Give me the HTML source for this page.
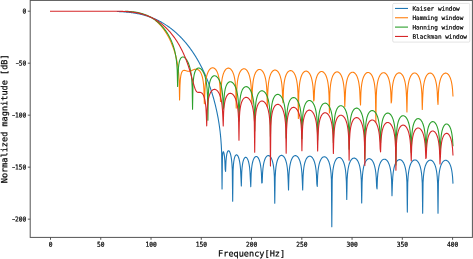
<!DOCTYPE html>
<html><head><meta charset="utf-8"><style>
html,body{margin:0;padding:0;background:#fff;}
svg{display:block;}
text{font-family:"DejaVu Sans Mono","Liberation Mono",monospace;fill:#000;stroke:#000;stroke-width:0.2px;text-rendering:geometricPrecision;}
.t{font-size:6.25px;}
.lg{font-size:6.05px;}
.lab{font-size:8.55px;}
</style></head><body>
<svg width="473" height="259" viewBox="0 0 473 259">
<rect width="473" height="259" fill="#fff"/>
<defs><clipPath id="c"><rect x="30.20" y="0.40" width="442.20" height="237.00"/></clipPath></defs>
<g clip-path="url(#c)">
<polyline points="117.42,11.50 117.81,11.52 118.21,11.54 118.60,11.55 118.99,11.57 119.39,11.59 119.78,11.61 120.17,11.63 120.57,11.65 120.96,11.67 121.35,11.70 121.75,11.72 122.14,11.74 122.53,11.77 122.93,11.80 123.32,11.82 123.71,11.85 124.11,11.88 124.50,11.91 124.89,11.94 125.29,11.97 125.68,12.01 126.07,12.04 126.47,12.08 126.86,12.11 127.26,12.15 127.65,12.19 128.04,12.23 128.44,12.27 128.83,12.31 129.22,12.35 129.62,12.40 130.01,12.45 130.40,12.49 130.80,12.54 131.19,12.59 131.58,12.64 131.98,12.70 132.37,12.75 132.76,12.81 133.16,12.86 133.55,12.92 133.94,12.98 134.34,13.05 134.73,13.11 135.12,13.17 135.52,13.24 135.91,13.31 136.30,13.38 136.70,13.45 137.09,13.52 137.48,13.60 137.88,13.67 138.27,13.75 138.66,13.83 139.06,13.91 139.45,14.00 139.84,14.08 140.24,14.17 140.63,14.26 141.02,14.35 141.42,14.44 141.81,14.54 142.20,14.64 142.60,14.74 142.99,14.84 143.38,14.94 143.78,15.05 144.17,15.15 144.56,15.26 144.96,15.37 145.35,15.49 145.74,15.60 146.14,15.72 146.53,15.84 146.92,15.96 147.32,16.09 147.71,16.21 148.10,16.34 148.50,16.47 148.89,16.61 149.28,16.74 149.68,16.88 150.07,17.02 150.46,17.17 150.86,17.31 151.25,17.46 151.64,17.61 152.04,17.76 152.43,17.92 152.82,18.08 153.22,18.24 153.61,18.40 154.00,18.57 154.40,18.74 154.79,18.91 155.18,19.08 155.58,19.26 155.97,19.44 156.36,19.62 156.76,19.80 157.15,19.99 157.54,20.18 157.94,20.37 158.33,20.57 158.72,20.77 159.12,20.97 159.51,21.17 159.90,21.38 160.30,21.59 160.69,21.80 161.08,22.02 161.48,22.24 161.87,22.46 162.26,22.69 162.66,22.91 163.05,23.15 163.44,23.38 163.84,23.62 164.23,23.86 164.62,24.10 165.02,24.35 165.41,24.60 165.80,24.86 166.20,25.11 166.59,25.37 166.98,25.64 167.38,25.91 167.77,26.18 168.16,26.45 168.56,26.73 168.95,27.01 169.34,27.29 169.74,27.58 170.13,27.88 170.52,28.17 170.92,28.47 171.31,28.77 171.70,29.08 172.10,29.39 172.49,29.71 172.88,30.02 173.28,30.35 173.67,30.67 174.06,31.00 174.46,31.34 174.85,31.67 175.24,32.02 175.64,32.36 176.03,32.71 176.42,33.07 176.82,33.43 177.21,33.79 177.61,34.16 178.00,34.53 178.39,34.90 178.79,35.28 179.18,35.67 179.57,36.06 179.97,36.45 180.36,36.85 180.75,37.25 181.15,37.66 181.54,38.07 181.93,38.49 182.33,38.91 182.72,39.34 183.11,39.77 183.51,40.21 183.90,40.65 184.29,41.10 184.69,41.55 185.08,42.01 185.47,42.47 185.87,42.94 186.26,43.42 186.65,43.90 187.05,44.38 187.44,44.87 187.83,45.37 188.23,45.87 188.62,46.38 189.01,46.90 189.41,47.42 189.80,47.94 190.19,48.48 190.59,49.02 190.98,49.56 191.37,50.12 191.77,50.68 192.16,51.24 192.55,51.81 192.95,52.40 193.34,52.98 193.73,53.58 194.13,54.18 194.52,54.79 194.91,55.41 195.31,56.03 195.70,56.66 196.09,57.31 196.49,57.95 196.88,58.61 197.27,59.28 197.67,59.95 198.06,60.64 198.45,61.33 198.85,62.03 199.24,62.74 199.63,63.47 200.03,64.20 200.42,64.94 200.81,65.69 201.21,66.45 201.60,67.23 201.99,68.01 202.39,68.81 202.78,69.62 203.17,70.44 203.57,71.27 203.96,72.12 204.35,72.98 204.75,73.85 205.14,74.74 205.53,75.64 205.93,76.55 206.32,77.48 206.71,78.43 207.11,79.40 207.50,80.38 207.89,81.38 208.29,82.40 208.68,83.43 209.07,84.49 209.47,85.57 209.86,86.67 210.25,87.79 210.65,88.94 211.04,90.11 211.43,91.31 211.83,92.54 212.22,93.80 212.61,95.08 213.01,96.41 213.40,97.76 213.79,99.16 214.19,100.59 214.58,102.07 214.97,103.60 215.37,105.18 215.76,106.81 216.15,108.51 216.55,110.27 216.94,112.11 217.33,114.04 217.73,116.07 218.12,118.20 218.51,120.47 218.91,122.89 219.30,125.51 219.69,128.36 220.09,131.53 220.48,135.14 220.87,139.42 221.27,144.86 221.66,153.07 222.05,188.95 222.45,156.73 222.84,152.87 223.23,151.77 223.63,152.05 224.02,153.37 224.41,155.83 224.81,160.09 225.20,169.41 225.59,171.43 225.99,161.15 226.38,156.85 226.77,154.33 227.17,152.71 227.56,151.67 227.96,151.06 228.35,150.78 228.74,150.79 229.14,151.07 229.53,151.61 229.92,152.41 230.32,153.51 230.71,154.96 231.10,156.86 231.50,159.42 231.89,163.09 232.28,169.35 232.68,201.24 233.07,170.38 233.46,164.31 233.86,161.00 234.25,158.85 234.64,157.35 235.04,156.30 235.43,155.57 235.82,155.11 236.22,154.87 236.61,154.83 237.00,154.98 237.40,155.31 237.79,155.83 238.18,156.56 238.58,157.51 238.97,158.74 239.36,160.31 239.76,162.35 240.15,165.13 240.54,169.27 240.94,177.17 241.33,186.00 241.72,172.33 242.12,167.32 242.51,164.30 242.90,162.22 243.30,160.70 243.69,159.56 244.08,158.71 244.48,158.09 244.87,157.66 245.26,157.41 245.66,157.32 246.05,157.38 246.44,157.59 246.84,157.96 247.23,158.49 247.62,159.20 248.02,160.12 248.41,161.31 248.80,162.82 249.20,164.81 249.59,167.54 249.98,171.66 250.38,179.77 250.77,186.60 251.16,173.82 251.56,168.79 251.95,165.66 252.34,163.44 252.74,161.75 253.13,160.42 253.52,159.37 253.92,158.52 254.31,157.86 254.70,157.34 255.10,156.95 255.49,156.69 255.88,156.54 256.28,156.50 256.67,156.56 257.06,156.73 257.46,157.02 257.85,157.42 258.24,157.95 258.64,158.62 259.03,159.47 259.42,160.51 259.82,161.80 260.21,163.44 260.60,165.57 261.00,168.50 261.39,173.05 261.78,183.00 262.18,182.78 262.57,172.95 262.96,168.40 263.36,165.44 263.75,163.29 264.14,161.62 264.54,160.29 264.93,159.20 265.32,158.31 265.72,157.58 266.11,156.98 266.50,156.51 266.90,156.13 267.29,155.86 267.68,155.68 268.08,155.58 268.47,155.57 268.86,155.64 269.26,155.80 269.65,156.05 270.04,156.39 270.44,156.83 270.83,157.38 271.22,158.06 271.62,158.87 272.01,159.86 272.40,161.06 272.80,162.54 273.19,164.41 273.58,166.88 273.98,170.40 274.37,176.38 274.76,203.22 275.16,177.36 275.55,170.89 275.94,167.21 276.34,164.66 276.73,162.74 277.12,161.23 277.52,160.00 277.91,158.98 278.31,158.14 278.70,157.44 279.09,156.87 279.49,156.40 279.88,156.02 280.27,155.74 280.67,155.53 281.06,155.41 281.45,155.36 281.85,155.38 282.24,155.48 282.63,155.66 283.03,155.91 283.42,156.25 283.81,156.67 284.21,157.19 284.60,157.82 284.99,158.58 285.39,159.48 285.78,160.56 286.17,161.87 286.57,163.48 286.96,165.52 287.35,168.26 287.75,172.30 288.14,179.94 288.53,189.86 288.93,175.36 289.32,170.10 289.71,166.86 290.11,164.54 290.50,162.76 290.89,161.33 291.29,160.17 291.68,159.20 292.07,158.40 292.47,157.73 292.86,157.17 293.25,156.71 293.65,156.34 294.04,156.05 294.43,155.84 294.83,155.71 295.22,155.64 295.61,155.65 296.01,155.72 296.40,155.86 296.79,156.08 297.19,156.37 297.58,156.74 297.97,157.19 298.37,157.74 298.76,158.39 299.15,159.17 299.55,160.09 299.94,161.19 300.33,162.52 300.73,164.15 301.12,166.21 301.51,168.97 301.91,173.05 302.30,180.79 302.69,190.03 303.09,175.94 303.48,170.74 303.87,167.51 304.27,165.20 304.66,163.42 305.05,162.00 305.45,160.84 305.84,159.87 306.23,159.05 306.63,158.37 307.02,157.81 307.41,157.34 307.81,156.95 308.20,156.65 308.59,156.43 308.99,156.27 309.38,156.18 309.77,156.16 310.17,156.21 310.56,156.32 310.95,156.50 311.35,156.74 311.74,157.07 312.13,157.47 312.53,157.95 312.92,158.53 313.31,159.22 313.71,160.03 314.10,160.99 314.49,162.13 314.89,163.51 315.28,165.20 315.67,167.36 316.07,170.28 316.46,174.70 316.85,183.84 317.25,186.44 317.64,175.61 318.03,170.88 318.43,167.85 318.82,165.64 319.21,163.93 319.61,162.55 320.00,161.42 320.39,160.47 320.79,159.68 321.18,159.01 321.57,158.45 321.97,157.98 322.36,157.60 322.75,157.30 323.15,157.07 323.54,156.92 323.93,156.82 324.33,156.79 324.72,156.83 325.11,156.93 325.51,157.09 325.90,157.32 326.29,157.62 326.69,158.00 327.08,158.46 327.47,159.00 327.87,159.65 328.26,160.41 328.66,161.31 329.05,162.37 329.44,163.64 329.84,165.19 330.23,167.12 330.62,169.66 331.02,173.28 331.41,179.51 331.80,226.79 332.20,179.64 332.59,173.41 332.98,169.81 333.38,167.30 333.77,165.39 334.16,163.88 334.56,162.64 334.95,161.62 335.34,160.75 335.74,160.03 336.13,159.41 336.52,158.90 336.92,158.48 337.31,158.14 337.70,157.87 338.10,157.67 338.49,157.53 338.88,157.46 339.28,157.46 339.67,157.51 340.06,157.63 340.46,157.81 340.85,158.06 341.24,158.38 341.64,158.77 342.03,159.24 342.42,159.80 342.82,160.47 343.21,161.25 343.60,162.17 344.00,163.25 344.39,164.56 344.78,166.15 345.18,168.15 345.57,170.79 345.96,174.61 346.36,181.45 346.75,199.45 347.14,179.31 347.54,173.60 347.93,170.18 348.32,167.76 348.72,165.92 349.11,164.44 349.50,163.23 349.90,162.22 350.29,161.37 350.68,160.65 351.08,160.05 351.47,159.54 351.86,159.12 352.26,158.78 352.65,158.51 353.04,158.31 353.44,158.17 353.83,158.10 354.22,158.09 354.62,158.14 355.01,158.25 355.40,158.43 355.80,158.66 356.19,158.97 356.58,159.35 356.98,159.81 357.37,160.36 357.76,161.00 358.16,161.76 358.55,162.65 358.94,163.70 359.34,164.95 359.73,166.47 360.12,168.37 360.52,170.85 360.91,174.35 361.30,180.22 361.70,202.89 362.09,181.85 362.48,175.20 362.88,171.47 363.27,168.89 363.66,166.93 364.06,165.39 364.45,164.12 364.84,163.07 365.24,162.19 365.63,161.44 366.02,160.81 366.42,160.28 366.81,159.83 367.20,159.47 367.60,159.18 367.99,158.96 368.38,158.80 368.78,158.71 369.17,158.67 369.56,158.70 369.96,158.79 370.35,158.93 370.74,159.15 371.14,159.42 371.53,159.77 371.92,160.19 372.32,160.70 372.71,161.30 373.10,162.00 373.50,162.83 373.89,163.80 374.28,164.95 374.68,166.34 375.07,168.04 375.46,170.21 375.86,173.15 376.25,177.61 376.64,186.90 377.04,188.91 377.43,178.30 377.82,173.61 378.22,170.58 378.61,168.37 379.01,166.66 379.40,165.27 379.79,164.12 380.19,163.16 380.58,162.34 380.97,161.66 381.37,161.07 381.76,160.59 382.15,160.18 382.55,159.85 382.94,159.59 383.33,159.40 383.73,159.27 384.12,159.20 384.51,159.19 384.91,159.24 385.30,159.35 385.69,159.52 386.09,159.75 386.48,160.06 386.87,160.43 387.27,160.88 387.66,161.41 388.05,162.05 388.45,162.79 388.84,163.66 389.23,164.68 389.63,165.90 390.02,167.38 390.41,169.22 390.81,171.60 391.20,174.92 391.59,180.30 391.99,195.75 392.38,184.36 392.77,176.95 393.17,172.97 393.56,170.28 393.95,168.25 394.35,166.65 394.74,165.35 395.13,164.26 395.53,163.35 395.92,162.58 396.31,161.92 396.71,161.37 397.10,160.90 397.49,160.52 397.89,160.21 398.28,159.97 398.67,159.79 399.07,159.67 399.46,159.61 399.85,159.62 400.25,159.68 400.64,159.80 401.03,159.99 401.43,160.23 401.82,160.55 402.21,160.93 402.61,161.40 403.00,161.95 403.39,162.60 403.79,163.36 404.18,164.26 404.57,165.31 404.97,166.57 405.36,168.11 405.75,170.03 406.15,172.54 406.54,176.10 406.93,182.17 407.33,212.08 407.72,182.87 408.11,176.47 408.51,172.81 408.90,170.26 409.29,168.33 409.69,166.78 410.08,165.52 410.47,164.47 410.87,163.58 411.26,162.83 411.65,162.19 412.05,161.64 412.44,161.19 412.83,160.81 413.23,160.51 413.62,160.27 414.01,160.10 414.41,159.99 414.80,159.94 415.19,159.95 415.59,160.01 415.98,160.14 416.37,160.33 416.77,160.58 417.16,160.90 417.55,161.29 417.95,161.76 418.34,162.31 418.73,162.97 419.13,163.74 419.52,164.64 419.91,165.71 420.31,166.99 420.70,168.54 421.09,170.49 421.49,173.05 421.88,176.73 422.27,183.13 422.67,213.15 423.06,182.51 423.45,176.44 423.85,172.89 424.24,170.39 424.63,168.48 425.03,166.96 425.42,165.71 425.81,164.67 426.21,163.79 426.60,163.04 426.99,162.40 427.39,161.86 427.78,161.41 428.17,161.04 428.57,160.73 428.96,160.50 429.36,160.33 429.75,160.22 430.14,160.16 430.54,160.17 430.93,160.24 431.32,160.36 431.72,160.55 432.11,160.80 432.50,161.11 432.90,161.50 433.29,161.97 433.68,162.52 434.08,163.18 434.47,163.94 434.86,164.84 435.26,165.91 435.65,167.19 436.04,168.74 436.44,170.68 436.83,173.24 437.22,176.92 437.62,183.31 438.01,213.21 438.40,182.68 438.80,176.61 439.19,173.06 439.58,170.56 439.98,168.65 440.37,167.12 440.76,165.87 441.16,164.82 441.55,163.94 441.94,163.19 442.34,162.55 442.73,162.01 443.12,161.55 443.52,161.17 443.91,160.86 444.30,160.63 444.70,160.45 445.09,160.33 445.48,160.28 445.88,160.28 446.27,160.34 446.66,160.46 447.06,160.64 447.45,160.89 447.84,161.20 448.24,161.58 448.63,162.05 449.02,162.59 449.42,163.24 449.81,164.00 450.20,164.89 450.60,165.95 450.99,167.21 451.38,168.75 451.78,170.68 452.17,173.21 452.56,176.82 452.96,183.05" fill="none" stroke="#1f77b4" stroke-width="1.1" stroke-linejoin="round" stroke-linecap="square"/>
<polyline points="155.58,20.58 155.97,20.91 156.36,21.24 156.76,21.59 157.15,21.94 157.54,22.30 157.94,22.67 158.33,23.05 158.72,23.44 159.12,23.84 159.51,24.25 159.90,24.67 160.30,25.10 160.69,25.54 161.08,25.99 161.48,26.45 161.87,26.92 162.26,27.41 162.66,27.90 163.05,28.41 163.44,28.93 163.84,29.46 164.23,30.01 164.62,30.57 165.02,31.15 165.41,31.74 165.80,32.34 166.20,32.96 166.59,33.60 166.98,34.25 167.38,34.92 167.77,35.61 168.16,36.32 168.56,37.05 168.95,37.80 169.34,38.57 169.74,39.36 170.13,40.18 170.52,41.02 170.92,41.89 171.31,42.79 171.70,43.73 172.10,44.69 172.49,45.69 172.88,46.73 173.28,47.81 173.67,48.93 174.06,50.11 174.46,51.35 174.85,52.65 175.24,54.02 175.64,55.48 176.03,57.04 176.42,58.72 176.82,60.55 177.21,62.57 177.61,64.85 178.00,67.49 178.39,70.67 178.79,74.83 179.18,81.18 179.57,100.00 179.97,85.51 180.36,79.22 180.75,76.07 181.15,74.13 181.54,72.83 181.93,71.93 182.33,71.31 182.72,70.88 183.11,70.60 183.51,70.43 183.90,70.36 184.29,70.35 184.69,70.39 185.08,70.47 185.47,70.58 185.87,70.70 186.26,70.83 186.65,70.96 187.05,71.07 187.44,71.17 187.83,71.25 188.23,71.30 188.62,71.32 189.01,71.30 189.41,71.26 189.80,71.19 190.19,71.09 190.59,70.97 190.98,70.83 191.37,70.67 191.77,70.50 192.16,70.33 192.55,70.15 192.95,69.98 193.34,69.81 193.73,69.66 194.13,69.52 194.52,69.40 194.91,69.30 195.31,69.23 195.70,69.18 196.09,69.17 196.49,69.19 196.88,69.24 197.27,69.34 197.67,69.48 198.06,69.67 198.45,69.91 198.85,70.21 199.24,70.57 199.63,70.99 200.03,71.50 200.42,72.10 200.81,72.80 201.21,73.62 201.60,74.60 201.99,75.76 202.39,77.18 202.78,78.95 203.17,81.25 203.57,84.45 203.96,89.64 204.35,103.69 204.75,94.44 205.14,86.66 205.53,82.55 205.93,79.75 206.32,77.64 206.71,75.96 207.11,74.58 207.50,73.43 207.89,72.44 208.29,71.60 208.68,70.87 209.07,70.24 209.47,69.70 209.86,69.24 210.25,68.85 210.65,68.53 211.04,68.27 211.43,68.07 211.83,67.93 212.22,67.84 212.61,67.80 213.01,67.82 213.40,67.90 213.79,68.03 214.19,68.22 214.58,68.46 214.97,68.78 215.37,69.16 215.76,69.61 216.15,70.15 216.55,70.78 216.94,71.51 217.33,72.37 217.73,73.39 218.12,74.59 218.51,76.04 218.91,77.84 219.30,80.16 219.69,83.36 220.09,88.44 220.48,101.39 220.87,94.30 221.27,86.21 221.66,82.06 222.05,79.27 222.45,77.18 222.84,75.54 223.23,74.21 223.63,73.09 224.02,72.15 224.41,71.36 224.81,70.68 225.20,70.10 225.59,69.61 225.99,69.20 226.38,68.87 226.77,68.60 227.17,68.39 227.56,68.24 227.96,68.16 228.35,68.13 228.74,68.15 229.14,68.24 229.53,68.38 229.92,68.57 230.32,68.84 230.71,69.16 231.10,69.56 231.50,70.03 231.89,70.59 232.28,71.24 232.68,72.00 233.07,72.89 233.46,73.94 233.86,75.19 234.25,76.69 234.64,78.57 235.04,81.00 235.43,84.40 235.82,90.02 236.22,108.09 236.61,92.89 237.00,85.87 237.40,82.02 237.79,79.37 238.18,77.38 238.58,75.81 238.97,74.52 239.36,73.45 239.76,72.54 240.15,71.77 240.54,71.12 240.94,70.57 241.33,70.10 241.72,69.71 242.12,69.40 242.51,69.15 242.90,68.97 243.30,68.84 243.69,68.77 244.08,68.76 244.48,68.81 244.87,68.92 245.26,69.08 245.66,69.31 246.05,69.59 246.44,69.95 246.84,70.38 247.23,70.88 247.62,71.48 248.02,72.17 248.41,72.99 248.80,73.94 249.20,75.07 249.59,76.42 249.98,78.07 250.38,80.15 250.77,82.92 251.16,87.02 251.56,94.81 251.95,103.79 252.34,89.84 252.74,84.65 253.13,81.42 253.52,79.10 253.92,77.31 254.31,75.87 254.70,74.68 255.10,73.68 255.49,72.84 255.88,72.13 256.28,71.52 256.67,71.01 257.06,70.58 257.46,70.23 257.85,69.94 258.24,69.72 258.64,69.57 259.03,69.47 259.42,69.43 259.82,69.45 260.21,69.52 260.60,69.65 261.00,69.85 261.39,70.10 261.78,70.42 262.18,70.81 262.57,71.28 262.96,71.83 263.36,72.47 263.75,73.23 264.14,74.11 264.54,75.15 264.93,76.38 265.32,77.87 265.72,79.72 266.11,82.12 266.50,85.46 266.90,90.88 267.29,106.75 267.68,94.73 268.08,87.39 268.47,83.45 268.86,80.76 269.26,78.74 269.65,77.15 270.04,75.85 270.44,74.77 270.83,73.85 271.22,73.08 271.62,72.42 272.01,71.87 272.40,71.40 272.80,71.01 273.19,70.69 273.58,70.44 273.98,70.25 274.37,70.13 274.76,70.06 275.16,70.05 275.55,70.10 275.94,70.20 276.34,70.37 276.73,70.59 277.12,70.88 277.52,71.24 277.91,71.67 278.31,72.18 278.70,72.78 279.09,73.48 279.49,74.30 279.88,75.27 280.27,76.41 280.67,77.78 281.06,79.45 281.45,81.58 281.85,84.42 282.24,88.68 282.63,97.12 283.03,102.59 283.42,90.49 283.81,85.54 284.21,82.41 284.60,80.14 284.99,78.38 285.39,76.96 285.78,75.79 286.17,74.81 286.57,73.98 286.96,73.27 287.35,72.67 287.75,72.16 288.14,71.74 288.53,71.39 288.93,71.11 289.32,70.89 289.71,70.74 290.11,70.64 290.50,70.61 290.89,70.63 291.29,70.71 291.68,70.85 292.07,71.04 292.47,71.30 292.86,71.63 293.25,72.03 293.65,72.50 294.04,73.06 294.43,73.72 294.83,74.48 295.22,75.38 295.61,76.44 296.01,77.71 296.40,79.24 296.79,81.15 297.19,83.64 297.58,87.17 297.97,93.14 298.37,118.47 298.76,94.33 299.15,87.80 299.55,84.10 299.94,81.53 300.33,79.58 300.73,78.03 301.12,76.77 301.51,75.71 301.91,74.81 302.30,74.06 302.69,73.41 303.09,72.86 303.48,72.40 303.87,72.02 304.27,71.71 304.66,71.47 305.05,71.29 305.45,71.17 305.84,71.11 306.23,71.10 306.63,71.16 307.02,71.27 307.41,71.44 307.81,71.67 308.20,71.97 308.59,72.34 308.99,72.78 309.38,73.30 309.77,73.91 310.17,74.63 310.56,75.47 310.95,76.46 311.35,77.63 311.74,79.04 312.13,80.78 312.53,83.00 312.92,86.03 313.31,90.68 313.71,100.96 314.10,99.93 314.49,90.37 314.89,85.87 315.28,82.93 315.67,80.77 316.07,79.07 316.46,77.70 316.85,76.56 317.25,75.60 317.64,74.79 318.03,74.10 318.43,73.52 318.82,73.02 319.21,72.61 319.61,72.27 320.00,72.00 320.39,71.79 320.79,71.64 321.18,71.56 321.57,71.53 321.97,71.56 322.36,71.64 322.75,71.79 323.15,72.00 323.54,72.26 323.93,72.60 324.33,73.01 324.72,73.50 325.11,74.07 325.51,74.74 325.90,75.53 326.29,76.45 326.69,77.55 327.08,78.85 327.47,80.44 327.87,82.45 328.26,85.09 328.66,88.92 329.05,95.81 329.44,113.07 329.84,93.49 330.23,87.80 330.62,84.38 331.02,81.96 331.41,80.10 331.80,78.61 332.20,77.38 332.59,76.35 332.98,75.49 333.38,74.75 333.77,74.12 334.16,73.59 334.56,73.14 334.95,72.77 335.34,72.47 335.74,72.24 336.13,72.07 336.52,71.96 336.92,71.90 337.31,71.91 337.70,71.97 338.10,72.09 338.49,72.27 338.88,72.51 339.28,72.82 339.67,73.20 340.06,73.65 340.46,74.19 340.85,74.82 341.24,75.56 341.64,76.42 342.03,77.44 342.42,78.66 342.82,80.12 343.21,81.94 343.60,84.29 344.00,87.54 344.39,92.77 344.78,106.82 345.18,97.72 345.57,89.98 345.96,85.92 346.36,83.17 346.75,81.12 347.14,79.50 347.54,78.17 347.93,77.07 348.32,76.14 348.72,75.35 349.11,74.68 349.50,74.11 349.90,73.63 350.29,73.23 350.68,72.91 351.08,72.64 351.47,72.45 351.86,72.31 352.26,72.23 352.65,72.22 353.04,72.25 353.44,72.35 353.83,72.50 354.22,72.72 354.62,73.00 355.01,73.35 355.40,73.77 355.80,74.27 356.19,74.86 356.58,75.55 356.98,76.37 357.37,77.32 357.76,78.45 358.16,79.81 358.55,81.47 358.94,83.58 359.34,86.40 359.73,90.63 360.12,98.94 360.52,104.96 360.91,92.58 361.30,87.59 361.70,84.43 362.09,82.15 362.48,80.37 362.88,78.94 363.27,77.76 363.66,76.77 364.06,75.93 364.45,75.21 364.84,74.60 365.24,74.09 365.63,73.65 366.02,73.30 366.42,73.01 366.81,72.79 367.20,72.62 367.60,72.52 367.99,72.48 368.38,72.49 368.78,72.57 369.17,72.70 369.56,72.89 369.96,73.14 370.35,73.46 370.74,73.85 371.14,74.32 371.53,74.87 371.92,75.52 372.32,76.28 372.71,77.18 373.10,78.23 373.50,79.49 373.89,81.02 374.28,82.93 374.68,85.43 375.07,88.97 375.46,94.97 375.86,122.05 376.25,95.93 376.64,89.46 377.04,85.77 377.43,83.20 377.82,81.25 378.22,79.70 378.61,78.43 379.01,77.37 379.40,76.47 379.79,75.70 380.19,75.05 380.58,74.50 380.97,74.04 381.37,73.65 381.76,73.33 382.15,73.09 382.55,72.90 382.94,72.77 383.33,72.71 383.73,72.70 384.12,72.75 384.51,72.85 384.91,73.02 385.30,73.24 385.69,73.54 386.09,73.90 386.48,74.33 386.87,74.85 387.27,75.46 387.66,76.17 388.05,77.01 388.45,78.00 388.84,79.17 389.23,80.58 389.63,82.32 390.02,84.56 390.41,87.60 390.81,92.32 391.20,102.98 391.59,100.92 391.99,91.66 392.38,87.22 392.77,84.30 393.17,82.14 393.56,80.46 393.95,79.08 394.35,77.94 394.74,76.98 395.13,76.17 395.53,75.48 395.92,74.89 396.31,74.39 396.71,73.97 397.10,73.62 397.49,73.35 397.89,73.14 398.28,72.99 398.67,72.90 399.07,72.86 399.46,72.89 399.85,72.97 400.25,73.11 400.64,73.31 401.03,73.58 401.43,73.91 401.82,74.31 402.21,74.80 402.61,75.37 403.00,76.04 403.39,76.83 403.79,77.75 404.18,78.84 404.57,80.15 404.97,81.75 405.36,83.76 405.75,86.43 406.15,90.32 406.54,97.43 406.93,111.93 407.33,94.39 407.72,88.84 408.11,85.47 408.51,83.06 408.90,81.21 409.29,79.73 409.69,78.50 410.08,77.48 410.47,76.61 410.87,75.87 411.26,75.24 411.65,74.70 412.05,74.26 412.44,73.88 412.83,73.58 413.23,73.34 413.62,73.17 414.01,73.05 414.41,73.00 414.80,73.00 415.19,73.06 415.59,73.17 415.98,73.35 416.37,73.59 416.77,73.89 417.16,74.27 417.55,74.72 417.95,75.25 418.34,75.88 418.73,76.62 419.13,77.49 419.52,78.51 419.91,79.72 420.31,81.20 420.70,83.03 421.09,85.40 421.49,88.71 421.88,94.07 422.27,109.46 422.67,98.15 423.06,90.71 423.45,86.73 423.85,84.02 424.24,81.98 424.63,80.37 425.03,79.05 425.42,77.95 425.81,77.02 426.21,76.24 426.60,75.56 426.99,74.99 427.39,74.51 427.78,74.11 428.17,73.78 428.57,73.51 428.96,73.31 429.36,73.18 429.75,73.10 430.14,73.07 430.54,73.11 430.93,73.20 431.32,73.35 431.72,73.57 432.11,73.84 432.50,74.19 432.90,74.61 433.29,75.11 433.68,75.70 434.08,76.39 434.47,77.20 434.86,78.16 435.26,79.29 435.65,80.66 436.04,82.33 436.44,84.46 436.83,87.33 437.22,91.65 437.62,100.39 438.01,104.47 438.40,92.99 438.80,88.13 439.19,85.03 439.58,82.77 439.98,81.01 440.37,79.59 440.76,78.41 441.16,77.42 441.55,76.58 441.94,75.86 442.34,75.25 442.73,74.74 443.12,74.30 443.52,73.94 443.91,73.65 444.30,73.43 444.70,73.27 445.09,73.16 445.48,73.12 445.88,73.13 446.27,73.20 446.66,73.33 447.06,73.51 447.45,73.76 447.84,74.08 448.24,74.47 448.63,74.94 449.02,75.49 449.42,76.14 449.81,76.90 450.20,77.80 450.60,78.86 450.99,80.12 451.38,81.66 451.78,83.59 452.17,86.12 452.56,89.74 452.96,95.97" fill="none" stroke="#ff7f0e" stroke-width="1.1" stroke-linejoin="round" stroke-linecap="square"/>
<polyline points="125.29,11.27 125.68,11.28 126.07,11.30 126.47,11.31 126.86,11.33 127.26,11.34 127.65,11.36 128.04,11.38 128.44,11.41 128.83,11.43 129.22,11.45 129.62,11.48 130.01,11.51 130.40,11.54 130.80,11.57 131.19,11.61 131.58,11.65 131.98,11.68 132.37,11.73 132.76,11.77 133.16,11.82 133.55,11.86 133.94,11.91 134.34,11.97 134.73,12.02 135.12,12.08 135.52,12.14 135.91,12.21 136.30,12.27 136.70,12.34 137.09,12.41 137.48,12.49 137.88,12.57 138.27,12.65 138.66,12.73 139.06,12.82 139.45,12.91 139.84,13.01 140.24,13.11 140.63,13.21 141.02,13.31 141.42,13.42 141.81,13.53 142.20,13.65 142.60,13.77 142.99,13.89 143.38,14.02 143.78,14.15 144.17,14.29 144.56,14.43 144.96,14.57 145.35,14.72 145.74,14.88 146.14,15.03 146.53,15.20 146.92,15.36 147.32,15.53 147.71,15.71 148.10,15.89 148.50,16.07 148.89,16.27 149.28,16.46 149.68,16.66 150.07,16.87 150.46,17.08 150.86,17.30 151.25,17.52 151.64,17.75 152.04,17.98 152.43,18.22 152.82,18.46 153.22,18.71 153.61,18.97 154.00,19.24 154.40,19.51 154.79,19.78 155.18,20.06 155.58,20.35 155.97,20.65 156.36,20.96 156.76,21.27 157.15,21.58 157.54,21.91 157.94,22.24 158.33,22.59 158.72,22.94 159.12,23.29 159.51,23.66 159.90,24.04 160.30,24.42 160.69,24.81 161.08,25.22 161.48,25.63 161.87,26.05 162.26,26.49 162.66,26.93 163.05,27.39 163.44,27.86 163.84,28.34 164.23,28.83 164.62,29.33 165.02,29.85 165.41,30.38 165.80,30.93 166.20,31.49 166.59,32.07 166.98,32.67 167.38,33.28 167.77,33.92 168.16,34.57 168.56,35.25 168.95,35.95 169.34,36.67 169.74,37.42 170.13,38.20 170.52,39.01 170.92,39.86 171.31,40.74 171.70,41.66 172.10,42.63 172.49,43.66 172.88,44.74 173.28,45.89 173.67,47.12 174.06,48.45 174.46,49.89 174.85,51.47 175.24,53.25 175.64,55.26 176.03,57.63 176.42,60.52 176.82,64.35 177.21,70.26 177.61,86.47 178.00,75.13 178.39,68.23 178.79,64.74 179.18,62.50 179.57,60.92 179.97,59.77 180.36,58.90 180.75,58.24 181.15,57.75 181.54,57.39 181.93,57.15 182.33,57.00 182.72,56.94 183.11,56.95 183.51,57.03 183.90,57.18 184.29,57.39 184.69,57.65 185.08,57.98 185.47,58.36 185.87,58.80 186.26,59.30 186.65,59.86 187.05,60.49 187.44,61.18 187.83,61.95 188.23,62.81 188.62,63.77 189.01,64.83 189.41,66.03 189.80,67.39 190.19,68.97 190.59,70.82 190.98,73.07 191.37,75.94 191.77,79.96 192.16,86.85 192.55,109.17 192.95,85.95 193.34,80.33 193.73,77.11 194.13,74.90 194.52,73.27 194.91,72.02 195.31,71.03 195.70,70.24 196.09,69.62 196.49,69.12 196.88,68.73 197.27,68.43 197.67,68.22 198.06,68.09 198.45,68.02 198.85,68.02 199.24,68.08 199.63,68.20 200.03,68.37 200.42,68.61 200.81,68.90 201.21,69.24 201.60,69.65 201.99,70.12 202.39,70.65 202.78,71.25 203.17,71.93 203.57,72.70 203.96,73.56 204.35,74.54 204.75,75.65 205.14,76.92 205.53,78.40 205.93,80.16 206.32,82.32 206.71,85.10 207.11,89.00 207.50,95.73 207.89,120.32 208.29,94.98 208.68,89.21 209.07,85.88 209.47,83.58 209.86,81.87 210.25,80.54 210.65,79.47 211.04,78.60 211.43,77.90 211.83,77.32 212.22,76.86 212.61,76.49 213.01,76.20 213.40,75.99 213.79,75.85 214.19,75.78 214.58,75.76 214.97,75.81 215.37,75.91 215.76,76.07 216.15,76.28 216.55,76.55 216.94,76.88 217.33,77.27 217.73,77.72 218.12,78.25 218.51,78.84 218.91,79.51 219.30,80.28 219.69,81.15 220.09,82.14 220.48,83.28 220.87,84.60 221.27,86.16 221.66,88.05 222.05,90.42 222.45,93.60 222.84,98.44 223.23,109.09 223.63,107.57 224.02,98.34 224.41,94.02 224.81,91.23 225.20,89.21 225.59,87.65 225.99,86.42 226.38,85.41 226.77,84.59 227.17,83.91 227.56,83.34 227.96,82.89 228.35,82.52 228.74,82.23 229.14,82.01 229.53,81.86 229.92,81.78 230.32,81.75 230.71,81.78 231.10,81.87 231.50,82.01 231.89,82.21 232.28,82.47 232.68,82.78 233.07,83.16 233.46,83.60 233.86,84.11 234.25,84.69 234.64,85.36 235.04,86.12 235.43,86.98 235.82,87.98 236.22,89.13 236.61,90.47 237.00,92.07 237.40,94.03 237.79,96.53 238.18,99.96 238.58,105.46 238.97,121.10 239.36,109.71 239.76,102.41 240.15,98.55 240.54,95.96 240.94,94.04 241.33,92.54 241.72,91.34 242.12,90.35 242.51,89.54 242.90,88.86 243.30,88.30 243.69,87.83 244.08,87.46 244.48,87.16 244.87,86.94 245.26,86.78 245.66,86.68 246.05,86.64 246.44,86.66 246.84,86.73 247.23,86.86 247.62,87.05 248.02,87.29 248.41,87.59 248.80,87.95 249.20,88.38 249.59,88.88 249.98,89.45 250.38,90.11 250.77,90.86 251.16,91.72 251.56,92.71 251.95,93.85 252.34,95.20 252.74,96.81 253.13,98.79 253.52,101.34 253.92,104.88 254.31,110.72 254.70,131.00 255.10,113.10 255.49,106.37 255.88,102.66 256.28,100.14 256.67,98.25 257.06,96.77 257.46,95.57 257.85,94.59 258.24,93.77 258.64,93.08 259.03,92.51 259.42,92.04 259.82,91.66 260.21,91.35 260.60,91.11 261.00,90.94 261.39,90.83 261.78,90.78 262.18,90.78 262.57,90.85 262.96,90.96 263.36,91.14 263.75,91.37 264.14,91.66 264.54,92.01 264.93,92.42 265.32,92.90 265.72,93.46 266.11,94.11 266.50,94.85 266.90,95.69 267.29,96.67 267.68,97.81 268.08,99.15 268.47,100.75 268.86,102.73 269.26,105.27 269.65,108.83 270.04,114.74 270.44,136.51 270.83,116.72 271.22,110.08 271.62,106.40 272.01,103.88 272.40,101.99 272.80,100.50 273.19,99.29 273.58,98.30 273.98,97.47 274.37,96.77 274.76,96.19 275.16,95.71 275.55,95.32 275.94,95.00 276.34,94.75 276.73,94.56 277.12,94.44 277.52,94.38 277.91,94.37 278.31,94.42 278.70,94.53 279.09,94.69 279.49,94.91 279.88,95.19 280.27,95.52 280.67,95.93 281.06,96.40 281.45,96.95 281.85,97.58 282.24,98.30 282.63,99.14 283.03,100.10 283.42,101.23 283.81,102.55 284.21,104.14 284.60,106.09 284.99,108.61 285.39,112.13 285.78,117.94 286.17,138.10 286.57,120.30 286.96,113.54 287.35,109.81 287.75,107.26 288.14,105.35 288.53,103.84 288.93,102.62 289.32,101.61 289.71,100.77 290.11,100.07 290.50,99.47 290.89,98.98 291.29,98.57 291.68,98.24 292.07,97.98 292.47,97.79 292.86,97.66 293.25,97.58 293.65,97.57 294.04,97.61 294.43,97.70 294.83,97.85 295.22,98.06 295.61,98.33 296.01,98.66 296.40,99.05 296.79,99.51 297.19,100.05 297.58,100.67 297.97,101.38 298.37,102.20 298.76,103.16 299.15,104.26 299.55,105.57 299.94,107.14 300.33,109.07 300.73,111.56 301.12,115.02 301.51,120.68 301.91,138.74 302.30,123.70 302.69,116.73 303.09,112.93 303.48,110.34 303.87,108.40 304.27,106.88 304.66,105.64 305.05,104.62 305.45,103.76 305.84,103.05 306.23,102.44 306.63,101.94 307.02,101.52 307.41,101.18 307.81,100.91 308.20,100.71 308.59,100.57 308.99,100.49 309.38,100.47 309.77,100.50 310.17,100.59 310.56,100.73 310.95,100.93 311.35,101.19 311.74,101.51 312.13,101.89 312.53,102.34 312.92,102.87 313.31,103.48 313.71,104.19 314.10,105.00 314.49,105.94 314.89,107.04 315.28,108.33 315.67,109.89 316.07,111.80 316.46,114.26 316.85,117.68 317.25,123.24 317.64,139.99 318.03,126.78 318.43,119.63 318.82,115.77 319.21,113.15 319.61,111.20 320.00,109.66 320.39,108.41 320.79,107.38 321.18,106.51 321.57,105.79 321.97,105.18 322.36,104.67 322.75,104.24 323.15,103.90 323.54,103.62 323.93,103.41 324.33,103.27 324.72,103.18 325.11,103.15 325.51,103.17 325.90,103.26 326.29,103.39 326.69,103.59 327.08,103.84 327.47,104.16 327.87,104.54 328.26,104.98 328.66,105.51 329.05,106.11 329.44,106.82 329.84,107.63 330.23,108.56 330.62,109.66 331.02,110.95 331.41,112.50 331.80,114.41 332.20,116.87 332.59,120.29 332.98,125.85 333.38,142.74 333.77,129.32 334.16,122.19 334.56,118.34 334.95,115.72 335.34,113.76 335.74,112.22 336.13,110.97 336.52,109.93 336.92,109.07 337.31,108.34 337.70,107.73 338.10,107.21 338.49,106.79 338.88,106.44 339.28,106.16 339.67,105.95 340.06,105.80 340.46,105.71 340.85,105.68 341.24,105.71 341.64,105.79 342.03,105.93 342.42,106.12 342.82,106.37 343.21,106.69 343.60,107.07 344.00,107.52 344.39,108.04 344.78,108.65 345.18,109.36 345.57,110.17 345.96,111.11 346.36,112.22 346.75,113.52 347.14,115.09 347.54,117.02 347.93,119.53 348.32,123.03 348.72,128.84 349.11,149.19 349.50,131.10 349.90,124.34 350.29,120.59 350.68,118.03 351.08,116.10 351.47,114.58 351.86,113.35 352.26,112.32 352.65,111.47 353.04,110.75 353.44,110.14 353.83,109.63 354.22,109.21 354.62,108.87 355.01,108.59 355.40,108.39 355.80,108.24 356.19,108.16 356.58,108.13 356.98,108.16 357.37,108.25 357.76,108.39 358.16,108.59 358.55,108.85 358.94,109.18 359.34,109.56 359.73,110.02 360.12,110.56 360.52,111.18 360.91,111.90 361.30,112.73 361.70,113.70 362.09,114.83 362.48,116.18 362.88,117.79 363.27,119.81 363.66,122.44 364.06,126.20 364.45,132.74 364.84,158.93 365.24,131.92 365.63,125.97 366.02,122.50 366.42,120.07 366.81,118.22 367.20,116.76 367.60,115.56 367.99,114.57 368.38,113.74 368.78,113.04 369.17,112.46 369.56,111.97 369.96,111.56 370.35,111.23 370.74,110.98 371.14,110.78 371.53,110.65 371.92,110.58 372.32,110.57 372.71,110.62 373.10,110.72 373.50,110.88 373.89,111.09 374.28,111.37 374.68,111.71 375.07,112.12 375.46,112.61 375.86,113.17 376.25,113.82 376.64,114.58 377.04,115.46 377.43,116.48 377.82,117.67 378.22,119.10 378.61,120.84 379.01,123.04 379.40,125.98 379.79,130.38 380.19,139.27 380.58,143.05 380.97,131.79 381.37,127.01 381.76,123.99 382.15,121.79 382.55,120.10 382.94,118.74 383.33,117.63 383.73,116.70 384.12,115.92 384.51,115.27 384.91,114.72 385.30,114.27 385.69,113.90 386.09,113.60 386.48,113.37 386.87,113.21 387.27,113.11 387.66,113.07 388.05,113.09 388.45,113.16 388.84,113.29 389.23,113.49 389.63,113.74 390.02,114.05 390.41,114.44 390.81,114.89 391.20,115.42 391.59,116.04 391.99,116.76 392.38,117.59 392.77,118.56 393.17,119.69 393.56,121.03 393.95,122.65 394.35,124.66 394.74,127.29 395.13,131.04 395.53,137.56 395.92,165.06 396.31,136.86 396.71,130.90 397.10,127.42 397.49,124.99 397.89,123.15 398.28,121.70 398.67,120.51 399.07,119.53 399.46,118.71 399.85,118.03 400.25,117.46 400.64,116.98 401.03,116.59 401.43,116.28 401.82,116.04 402.21,115.87 402.61,115.77 403.00,115.72 403.39,115.74 403.79,115.81 404.18,115.94 404.57,116.14 404.97,116.40 405.36,116.72 405.75,117.11 406.15,117.57 406.54,118.12 406.93,118.75 407.33,119.49 407.72,120.34 408.11,121.34 408.51,122.51 408.90,123.89 409.29,125.58 409.69,127.70 410.08,130.50 410.47,134.59 410.87,142.23 411.26,152.65 411.65,137.94 412.05,132.71 412.44,129.51 412.83,127.23 413.23,125.48 413.62,124.10 414.01,122.97 414.41,122.04 414.80,121.26 415.19,120.61 415.59,120.08 415.98,119.64 416.37,119.29 416.77,119.01 417.16,118.81 417.55,118.68 417.95,118.61 418.34,118.61 418.73,118.67 419.13,118.79 419.52,118.98 419.91,119.23 420.31,119.55 420.70,119.94 421.09,120.41 421.49,120.96 421.88,121.61 422.27,122.36 422.67,123.24 423.06,124.27 423.45,125.48 423.85,126.93 424.24,128.71 424.63,130.96 425.03,133.99 425.42,138.60 425.81,148.41 426.21,149.00 426.60,139.00 426.99,134.47 427.39,131.56 427.78,129.45 428.17,127.82 428.57,126.52 428.96,125.46 429.36,124.58 429.75,123.86 430.14,123.26 430.54,122.78 430.93,122.39 431.32,122.09 431.72,121.86 432.11,121.72 432.50,121.64 432.90,121.64 433.29,121.71 433.68,121.84 434.08,122.04 434.47,122.32 434.86,122.68 435.26,123.11 435.65,123.64 436.04,124.26 436.44,124.99 436.83,125.86 437.22,126.88 437.62,128.09 438.01,129.56 438.40,131.37 438.80,133.69 439.19,136.87 439.58,141.85 439.98,153.85 440.37,148.82 440.76,140.39 441.16,136.19 441.55,133.43 441.94,131.39 442.34,129.81 442.73,128.55 443.12,127.52 443.52,126.67 443.91,125.98 444.30,125.41 444.70,124.95 445.09,124.59 445.48,124.32 445.88,124.13 446.27,124.03 446.66,124.00 447.06,124.06 447.45,124.18 447.84,124.39 448.24,124.68 448.63,125.06 449.02,125.54 449.42,126.12 449.81,126.82 450.20,127.67 450.60,128.68 450.99,129.91 451.38,131.42 451.78,133.32 452.17,135.83 452.56,139.43 452.96,145.65" fill="none" stroke="#2ca02c" stroke-width="1.1" stroke-linejoin="round" stroke-linecap="square"/>
<polyline points="50.55,11.20 50.94,11.20 51.34,11.20 51.73,11.20 52.12,11.20 52.52,11.20 52.91,11.20 53.30,11.20 53.70,11.20 54.09,11.20 54.48,11.20 54.88,11.20 55.27,11.20 55.66,11.20 56.06,11.20 56.45,11.20 56.84,11.20 57.24,11.20 57.63,11.20 58.02,11.20 58.42,11.20 58.81,11.20 59.20,11.20 59.60,11.20 59.99,11.20 60.38,11.20 60.78,11.20 61.17,11.20 61.56,11.20 61.96,11.20 62.35,11.20 62.74,11.20 63.14,11.20 63.53,11.20 63.92,11.20 64.32,11.20 64.71,11.20 65.10,11.20 65.50,11.20 65.89,11.20 66.28,11.20 66.68,11.20 67.07,11.20 67.46,11.20 67.86,11.20 68.25,11.20 68.64,11.20 69.04,11.20 69.43,11.20 69.82,11.20 70.22,11.20 70.61,11.20 71.00,11.20 71.40,11.20 71.79,11.20 72.18,11.20 72.58,11.20 72.97,11.20 73.36,11.20 73.76,11.20 74.15,11.20 74.54,11.20 74.94,11.20 75.33,11.20 75.72,11.20 76.12,11.20 76.51,11.20 76.91,11.20 77.30,11.20 77.69,11.20 78.09,11.20 78.48,11.20 78.87,11.20 79.27,11.20 79.66,11.20 80.05,11.20 80.45,11.20 80.84,11.20 81.23,11.20 81.63,11.20 82.02,11.20 82.41,11.20 82.81,11.20 83.20,11.20 83.59,11.20 83.99,11.20 84.38,11.20 84.77,11.20 85.17,11.20 85.56,11.20 85.95,11.20 86.35,11.20 86.74,11.20 87.13,11.20 87.53,11.20 87.92,11.20 88.31,11.20 88.71,11.20 89.10,11.20 89.49,11.20 89.89,11.20 90.28,11.20 90.67,11.20 91.07,11.20 91.46,11.20 91.85,11.20 92.25,11.20 92.64,11.20 93.03,11.20 93.43,11.20 93.82,11.20 94.21,11.20 94.61,11.20 95.00,11.20 95.39,11.20 95.79,11.20 96.18,11.20 96.57,11.20 96.97,11.20 97.36,11.20 97.75,11.20 98.15,11.20 98.54,11.20 98.93,11.20 99.33,11.20 99.72,11.20 100.11,11.20 100.51,11.20 100.90,11.20 101.29,11.20 101.69,11.20 102.08,11.20 102.47,11.20 102.87,11.20 103.26,11.20 103.65,11.20 104.05,11.20 104.44,11.20 104.83,11.20 105.23,11.20 105.62,11.20 106.01,11.20 106.41,11.20 106.80,11.20 107.19,11.20 107.59,11.20 107.98,11.20 108.37,11.20 108.77,11.20 109.16,11.20 109.55,11.20 109.95,11.21 110.34,11.21 110.73,11.21 111.13,11.21 111.52,11.21 111.91,11.21 112.31,11.21 112.70,11.21 113.09,11.22 113.49,11.22 113.88,11.22 114.27,11.22 114.67,11.23 115.06,11.23 115.45,11.23 115.85,11.24 116.24,11.24 116.63,11.25 117.03,11.25 117.42,11.26 117.81,11.26 118.21,11.27 118.60,11.28 118.99,11.28 119.39,11.29 119.78,11.30 120.17,11.31 120.57,11.32 120.96,11.33 121.35,11.34 121.75,11.36 122.14,11.37 122.53,11.39 122.93,11.40 123.32,11.42 123.71,11.43 124.11,11.45 124.50,11.47 124.89,11.49 125.29,11.51 125.68,11.54 126.07,11.56 126.47,11.58 126.86,11.61 127.26,11.64 127.65,11.67 128.04,11.70 128.44,11.73 128.83,11.76 129.22,11.80 129.62,11.83 130.01,11.87 130.40,11.91 130.80,11.95 131.19,11.99 131.58,12.04 131.98,12.09 132.37,12.13 132.76,12.18 133.16,12.24 133.55,12.29 133.94,12.35 134.34,12.41 134.73,12.47 135.12,12.53 135.52,12.59 135.91,12.66 136.30,12.73 136.70,12.80 137.09,12.87 137.48,12.95 137.88,13.03 138.27,13.11 138.66,13.19 139.06,13.28 139.45,13.37 139.84,13.46 140.24,13.56 140.63,13.65 141.02,13.75 141.42,13.86 141.81,13.96 142.20,14.07 142.60,14.18 142.99,14.30 143.38,14.41 143.78,14.53 144.17,14.66 144.56,14.78 144.96,14.91 145.35,15.05 145.74,15.18 146.14,15.32 146.53,15.47 146.92,15.61 147.32,15.76 147.71,15.92 148.10,16.07 148.50,16.23 148.89,16.40 149.28,16.57 149.68,16.74 150.07,16.91 150.46,17.09 150.86,17.27 151.25,17.46 151.64,17.65 152.04,17.85 152.43,18.05 152.82,18.25 153.22,18.46 153.61,18.67 154.00,18.88 154.40,19.10 154.79,19.33 155.18,19.56 155.58,19.79 155.97,20.03 156.36,20.27 156.76,20.52 157.15,20.77 157.54,21.02 157.94,21.29 158.33,21.55 158.72,21.82 159.12,22.10 159.51,22.38 159.90,22.67 160.30,22.96 160.69,23.25 161.08,23.56 161.48,23.86 161.87,24.18 162.26,24.49 162.66,24.82 163.05,25.15 163.44,25.48 163.84,25.82 164.23,26.17 164.62,26.53 165.02,26.89 165.41,27.25 165.80,27.62 166.20,28.00 166.59,28.39 166.98,28.78 167.38,29.18 167.77,29.58 168.16,30.00 168.56,30.42 168.95,30.84 169.34,31.28 169.74,31.72 170.13,32.17 170.52,32.63 170.92,33.09 171.31,33.57 171.70,34.05 172.10,34.54 172.49,35.04 172.88,35.55 173.28,36.06 173.67,36.59 174.06,37.13 174.46,37.67 174.85,38.23 175.24,38.79 175.64,39.37 176.03,39.95 176.42,40.55 176.82,41.16 177.21,41.78 177.61,42.41 178.00,43.06 178.39,43.71 178.79,44.38 179.18,45.06 179.57,45.76 179.97,46.47 180.36,47.19 180.75,47.93 181.15,48.69 181.54,49.46 181.93,50.25 182.33,51.05 182.72,51.87 183.11,52.71 183.51,53.57 183.90,54.45 184.29,55.35 184.69,56.27 185.08,57.21 185.47,58.17 185.87,59.16 186.26,60.17 186.65,61.21 187.05,62.28 187.44,63.37 187.83,64.49 188.23,65.64 188.62,66.82 189.01,68.03 189.41,69.27 189.80,70.54 190.19,71.85 190.59,73.18 190.98,74.55 191.37,75.94 191.77,77.36 192.16,78.79 192.55,80.23 192.95,81.67 193.34,83.10 193.73,84.50 194.13,85.84 194.52,87.11 194.91,88.27 195.31,89.30 195.70,90.19 196.09,90.92 196.49,91.49 196.88,91.90 197.27,92.17 197.67,92.33 198.06,92.41 198.45,92.42 198.85,92.41 199.24,92.38 199.63,92.36 200.03,92.37 200.42,92.42 200.81,92.52 201.21,92.69 201.60,92.92 201.99,93.24 202.39,93.65 202.78,94.17 203.17,94.82 203.57,95.61 203.96,96.59 204.35,97.79 204.75,99.30 205.14,101.24 205.53,103.87 205.93,107.80 206.32,115.25 206.71,125.83 207.11,110.80 207.50,105.42 207.89,102.08 208.29,99.68 208.68,97.81 209.07,96.31 209.47,95.07 209.86,94.02 210.25,93.13 210.65,92.38 211.04,91.73 211.43,91.19 211.83,90.72 212.22,90.34 212.61,90.03 213.01,89.78 213.40,89.59 213.79,89.46 214.19,89.39 214.58,89.37 214.97,89.41 215.37,89.50 215.76,89.65 216.15,89.85 216.55,90.11 216.94,90.42 217.33,90.80 217.73,91.24 218.12,91.76 218.51,92.36 218.91,93.04 219.30,93.82 219.69,94.72 220.09,95.76 220.48,96.98 220.87,98.41 221.27,100.15 221.66,102.32 222.05,105.18 222.45,109.38 222.84,117.32 223.23,125.93 223.63,112.32 224.02,107.24 224.41,104.11 224.81,101.88 225.20,100.17 225.59,98.81 225.99,97.70 226.38,96.78 226.77,96.02 227.17,95.38 227.56,94.85 227.96,94.42 228.35,94.06 228.74,93.78 229.14,93.57 229.53,93.43 229.92,93.34 230.32,93.31 230.71,93.34 231.10,93.42 231.50,93.56 231.89,93.76 232.28,94.01 232.68,94.32 233.07,94.69 233.46,95.13 233.86,95.63 234.25,96.22 234.64,96.89 235.04,97.66 235.43,98.54 235.82,99.56 236.22,100.74 236.61,102.13 237.00,103.80 237.40,105.88 237.79,108.59 238.18,112.44 238.58,119.21 238.97,140.24 239.36,117.79 239.76,112.04 240.15,108.66 240.54,106.29 240.94,104.50 241.33,103.08 241.72,101.93 242.12,100.98 242.51,100.19 242.90,99.53 243.30,98.99 243.69,98.53 244.08,98.16 244.48,97.87 244.87,97.64 245.26,97.48 245.66,97.38 246.05,97.34 246.44,97.36 246.84,97.43 247.23,97.56 247.62,97.74 248.02,97.98 248.41,98.28 248.80,98.64 249.20,99.06 249.59,99.56 249.98,100.13 250.38,100.79 250.77,101.54 251.16,102.41 251.56,103.41 251.95,104.57 252.34,105.95 252.74,107.59 253.13,109.63 253.52,112.29 253.92,116.05 254.31,122.55 254.70,152.21 255.10,122.07 255.49,116.09 255.88,112.62 256.28,110.21 256.67,108.38 257.06,106.94 257.46,105.77 257.85,104.80 258.24,104.00 258.64,103.32 259.03,102.76 259.42,102.29 259.82,101.91 260.21,101.60 260.60,101.36 261.00,101.19 261.39,101.08 261.78,101.03 262.18,101.03 262.57,101.09 262.96,101.21 263.36,101.38 263.75,101.60 264.14,101.89 264.54,102.24 264.93,102.65 265.32,103.13 265.72,103.69 266.11,104.34 266.50,105.08 266.90,105.93 267.29,106.91 267.68,108.06 268.08,109.41 268.47,111.03 268.86,113.04 269.26,115.65 269.65,119.33 270.04,125.59 270.44,165.92 270.83,125.97 271.22,119.77 271.62,116.22 272.01,113.76 272.40,111.90 272.80,110.44 273.19,109.24 273.58,108.26 273.98,107.44 274.37,106.75 274.76,106.17 275.16,105.69 275.55,105.29 275.94,104.97 276.34,104.72 276.73,104.54 277.12,104.42 277.52,104.35 277.91,104.35 278.31,104.40 278.70,104.50 279.09,104.66 279.49,104.88 279.88,105.15 280.27,105.49 280.67,105.89 281.06,106.36 281.45,106.91 281.85,107.54 282.24,108.26 282.63,109.10 283.03,110.07 283.42,111.20 283.81,112.53 284.21,114.13 284.60,116.10 284.99,118.66 285.39,122.25 285.78,128.26 286.17,153.21 286.57,129.64 286.96,123.16 287.35,119.51 287.75,117.00 288.14,115.11 288.53,113.62 288.93,112.41 289.32,111.40 289.71,110.57 290.11,109.86 290.50,109.27 290.89,108.78 291.29,108.37 291.68,108.04 292.07,107.78 292.47,107.59 292.86,107.45 293.25,107.38 293.65,107.36 294.04,107.40 294.43,107.50 294.83,107.65 295.22,107.85 295.61,108.12 296.01,108.44 296.40,108.83 296.79,109.30 297.19,109.83 297.58,110.45 297.97,111.17 298.37,111.99 298.76,112.94 299.15,114.06 299.55,115.37 299.94,116.94 300.33,118.89 300.73,121.40 301.12,124.90 301.51,130.69 301.91,150.72 302.30,133.06 302.69,126.28 303.09,122.54 303.48,119.98 303.87,118.05 304.27,116.54 304.66,115.31 305.05,114.29 305.45,113.44 305.84,112.72 306.23,112.12 306.63,111.62 307.02,111.20 307.41,110.86 307.81,110.59 308.20,110.39 308.59,110.25 308.99,110.16 309.38,110.14 309.77,110.17 310.17,110.26 310.56,110.40 310.95,110.60 311.35,110.86 311.74,111.17 312.13,111.56 312.53,112.01 312.92,112.54 313.31,113.15 313.71,113.85 314.10,114.67 314.49,115.61 314.89,116.71 315.28,118.01 315.67,119.57 316.07,121.49 316.46,123.97 316.85,127.42 317.25,133.06 317.64,150.93 318.03,136.13 318.43,129.13 318.82,125.31 319.21,122.71 319.61,120.77 320.00,119.23 320.39,117.99 320.79,116.96 321.18,116.10 321.57,115.38 321.97,114.77 322.36,114.25 322.75,113.83 323.15,113.48 323.54,113.21 323.93,113.00 324.33,112.85 324.72,112.77 325.11,112.74 325.51,112.76 325.90,112.84 326.29,112.98 326.69,113.17 327.08,113.43 327.47,113.74 327.87,114.12 328.26,114.57 328.66,115.09 329.05,115.70 329.44,116.40 329.84,117.21 330.23,118.15 330.62,119.25 331.02,120.54 331.41,122.09 331.80,124.01 332.20,126.49 332.59,129.93 332.98,135.57 333.38,153.38 333.77,138.65 334.16,131.64 334.56,127.82 334.95,125.22 335.34,123.27 335.74,121.73 336.13,120.48 336.52,119.45 336.92,118.59 337.31,117.86 337.70,117.25 338.10,116.74 338.49,116.31 338.88,115.96 339.28,115.69 339.67,115.48 340.06,115.33 340.46,115.24 340.85,115.21 341.24,115.23 341.64,115.31 342.03,115.45 342.42,115.64 342.82,115.90 343.21,116.21 343.60,116.59 344.00,117.04 344.39,117.56 344.78,118.17 345.18,118.88 345.57,119.70 345.96,120.64 346.36,121.75 346.75,123.05 347.14,124.62 347.54,126.57 347.93,129.09 348.32,132.62 348.72,138.49 349.11,160.30 349.50,140.40 349.90,133.74 350.29,130.03 350.68,127.48 351.08,125.56 351.47,124.05 351.86,122.81 352.26,121.79 352.65,120.94 353.04,120.22 353.44,119.61 353.83,119.11 354.22,118.68 354.62,118.34 355.01,118.07 355.40,117.86 355.80,117.72 356.19,117.64 356.58,117.61 356.98,117.64 357.37,117.73 357.76,117.87 358.16,118.07 358.55,118.33 358.94,118.65 359.34,119.04 359.73,119.50 360.12,120.04 360.52,120.66 360.91,121.38 361.30,122.22 361.70,123.19 362.09,124.32 362.48,125.67 362.88,127.29 363.27,129.32 363.66,131.97 364.06,135.76 364.45,142.40 364.84,165.42 365.24,141.20 365.63,135.34 366.02,131.89 366.42,129.48 366.81,127.64 367.20,126.18 367.60,124.99 367.99,124.00 368.38,123.18 368.78,122.48 369.17,121.89 369.56,121.40 369.96,121.00 370.35,120.67 370.74,120.41 371.14,120.22 371.53,120.09 371.92,120.02 372.32,120.01 372.71,120.06 373.10,120.16 373.50,120.32 373.89,120.54 374.28,120.82 374.68,121.16 375.07,121.57 375.46,122.05 375.86,122.62 376.25,123.27 376.64,124.03 377.04,124.91 377.43,125.93 377.82,127.13 378.22,128.57 378.61,130.31 379.01,132.52 379.40,135.49 379.79,139.94 380.19,149.05 380.58,151.96 380.97,141.06 381.37,136.35 381.76,133.35 382.15,131.17 382.55,129.49 382.94,128.13 383.33,127.02 383.73,126.10 384.12,125.32 384.51,124.67 384.91,124.13 385.30,123.68 385.69,123.30 386.09,123.01 386.48,122.78 386.87,122.62 387.27,122.52 387.66,122.48 388.05,122.50 388.45,122.58 388.84,122.71 389.23,122.90 389.63,123.16 390.02,123.47 390.41,123.86 390.81,124.31 391.20,124.85 391.59,125.47 391.99,126.19 392.38,127.02 392.77,127.99 393.17,129.13 393.56,130.47 393.95,132.10 394.35,134.13 394.74,136.78 395.13,140.58 395.53,147.23 395.92,170.13 396.31,146.03 396.71,140.18 397.10,136.74 397.49,134.33 397.89,132.51 398.28,131.06 398.67,129.88 399.07,128.90 399.46,128.09 399.85,127.41 400.25,126.83 400.64,126.36 401.03,125.98 401.43,125.67 401.82,125.43 402.21,125.26 402.61,125.16 403.00,125.11 403.39,125.13 403.79,125.20 404.18,125.34 404.57,125.53 404.97,125.79 405.36,126.12 405.75,126.51 406.15,126.97 406.54,127.52 406.93,128.16 407.33,128.90 407.72,129.76 408.11,130.76 408.51,131.93 408.90,133.33 409.29,135.03 409.69,137.16 410.08,139.99 410.47,144.15 410.87,152.03 411.26,160.83 411.65,147.07 412.05,141.95 412.44,138.79 412.83,136.53 413.23,134.81 413.62,133.43 414.01,132.31 414.41,131.38 414.80,130.61 415.19,129.97 415.59,129.43 415.98,129.00 416.37,128.65 416.77,128.38 417.16,128.18 417.55,128.05 417.95,127.98 418.34,127.98 418.73,128.04 419.13,128.17 419.52,128.35 419.91,128.61 420.31,128.93 420.70,129.32 421.09,129.79 421.49,130.35 421.88,131.00 422.27,131.76 422.67,132.64 423.06,133.67 423.45,134.89 423.85,136.35 424.24,138.14 424.63,140.42 425.03,143.49 425.42,148.20 425.81,158.49 426.21,157.65 426.60,148.13 426.99,143.69 427.39,140.82 427.78,138.73 428.17,137.12 428.57,135.82 428.96,134.77 429.36,133.90 429.75,133.18 430.14,132.59 430.54,132.11 430.93,131.72 431.32,131.42 431.72,131.20 432.11,131.06 432.50,130.99 432.90,130.99 433.29,131.05 433.68,131.19 434.08,131.40 434.47,131.68 434.86,132.03 435.26,132.47 435.65,133.00 436.04,133.62 436.44,134.36 436.83,135.23 437.22,136.26 437.62,137.48 438.01,138.95 438.40,140.77 438.80,143.11 439.19,146.33 439.58,151.41 439.98,164.05 440.37,157.71 440.76,149.55 441.16,145.42 441.55,142.68 441.94,140.67 442.34,139.10 442.73,137.85 443.12,136.82 443.52,135.98 443.91,135.29 444.30,134.72 444.70,134.26 445.09,133.90 445.48,133.64 445.88,133.45 446.27,133.35 446.66,133.33 447.06,133.38 447.45,133.51 447.84,133.72 448.24,134.01 448.63,134.39 449.02,134.86 449.42,135.45 449.81,136.15 450.20,136.99 450.60,138.01 450.99,139.23 451.38,140.74 451.78,142.65 452.17,145.16 452.56,148.76 452.96,154.98" fill="none" stroke="#d62728" stroke-width="1.1" stroke-linejoin="round" stroke-linecap="square"/>
</g>
<rect x="30.20" y="0.40" width="442.20" height="237.00" fill="none" stroke="#555" stroke-width="1.0"/>
<line x1="49.81" y1="245.55" x2="51.18" y2="242.85" stroke="#000" stroke-width="0.5" stroke-opacity="0.8"/>
<line x1="50.50" y1="237.40" x2="50.50" y2="239.80" stroke="#444" stroke-width="0.9"/>
<text rotate="0.05" transform="translate(50.50,246.70) scale(1,1.080)" text-anchor="middle" class="t">0</text>
<line x1="101.95" y1="245.55" x2="103.32" y2="242.85" stroke="#000" stroke-width="0.5" stroke-opacity="0.8"/>
<line x1="100.76" y1="237.40" x2="100.76" y2="239.80" stroke="#444" stroke-width="0.9"/>
<text rotate="0.05" transform="translate(100.76,246.70) scale(1,1.080)" text-anchor="middle" class="t">50</text>
<line x1="150.33" y1="245.55" x2="151.70" y2="242.85" stroke="#000" stroke-width="0.5" stroke-opacity="0.8"/>
<line x1="154.09" y1="245.55" x2="155.46" y2="242.85" stroke="#000" stroke-width="0.5" stroke-opacity="0.8"/>
<line x1="151.02" y1="237.40" x2="151.02" y2="239.80" stroke="#444" stroke-width="0.9"/>
<text rotate="0.05" transform="translate(151.02,246.70) scale(1,1.080)" text-anchor="middle" class="t">100</text>
<line x1="204.35" y1="245.55" x2="205.72" y2="242.85" stroke="#000" stroke-width="0.5" stroke-opacity="0.8"/>
<line x1="201.28" y1="237.40" x2="201.28" y2="239.80" stroke="#444" stroke-width="0.9"/>
<text rotate="0.05" transform="translate(201.28,246.70) scale(1,1.080)" text-anchor="middle" class="t">150</text>
<line x1="250.85" y1="245.55" x2="252.22" y2="242.85" stroke="#000" stroke-width="0.5" stroke-opacity="0.8"/>
<line x1="254.61" y1="245.55" x2="255.98" y2="242.85" stroke="#000" stroke-width="0.5" stroke-opacity="0.8"/>
<line x1="251.54" y1="237.40" x2="251.54" y2="239.80" stroke="#444" stroke-width="0.9"/>
<text rotate="0.05" transform="translate(251.54,246.70) scale(1,1.080)" text-anchor="middle" class="t">200</text>
<line x1="304.87" y1="245.55" x2="306.24" y2="242.85" stroke="#000" stroke-width="0.5" stroke-opacity="0.8"/>
<line x1="301.80" y1="237.40" x2="301.80" y2="239.80" stroke="#444" stroke-width="0.9"/>
<text rotate="0.05" transform="translate(301.80,246.70) scale(1,1.080)" text-anchor="middle" class="t">250</text>
<line x1="351.37" y1="245.55" x2="352.74" y2="242.85" stroke="#000" stroke-width="0.5" stroke-opacity="0.8"/>
<line x1="355.13" y1="245.55" x2="356.50" y2="242.85" stroke="#000" stroke-width="0.5" stroke-opacity="0.8"/>
<line x1="352.06" y1="237.40" x2="352.06" y2="239.80" stroke="#444" stroke-width="0.9"/>
<text rotate="0.05" transform="translate(352.06,246.70) scale(1,1.080)" text-anchor="middle" class="t">300</text>
<line x1="405.39" y1="245.55" x2="406.76" y2="242.85" stroke="#000" stroke-width="0.5" stroke-opacity="0.8"/>
<line x1="402.32" y1="237.40" x2="402.32" y2="239.80" stroke="#444" stroke-width="0.9"/>
<text rotate="0.05" transform="translate(402.32,246.70) scale(1,1.080)" text-anchor="middle" class="t">350</text>
<line x1="451.89" y1="245.55" x2="453.26" y2="242.85" stroke="#000" stroke-width="0.5" stroke-opacity="0.8"/>
<line x1="455.65" y1="245.55" x2="457.02" y2="242.85" stroke="#000" stroke-width="0.5" stroke-opacity="0.8"/>
<line x1="452.58" y1="237.40" x2="452.58" y2="239.80" stroke="#444" stroke-width="0.9"/>
<text rotate="0.05" transform="translate(452.58,246.70) scale(1,1.080)" text-anchor="middle" class="t">400</text>
<line x1="27.80" y1="11.20" x2="30.20" y2="11.20" stroke="#444" stroke-width="0.9"/>
<text rotate="0.05" transform="translate(26.30,13.60) scale(1,1.080)" text-anchor="end" class="t">0</text>
<line x1="23.73" y1="12.45" x2="25.10" y2="9.75" stroke="#000" stroke-width="0.5" stroke-opacity="0.8"/>
<line x1="27.80" y1="63.19" x2="30.20" y2="63.19" stroke="#444" stroke-width="0.9"/>
<line x1="23.73" y1="64.44" x2="25.10" y2="61.74" stroke="#000" stroke-width="0.5" stroke-opacity="0.8"/>
<text rotate="0.05" transform="translate(0,65.59) scale(1,1.080)" class="t"><tspan x="15.72" y="-0.41" style="font-size:5.05px">−</tspan><tspan x="26.30" y="0" text-anchor="end">50</tspan></text>
<line x1="27.80" y1="115.18" x2="30.20" y2="115.18" stroke="#444" stroke-width="0.9"/>
<line x1="19.96" y1="116.43" x2="21.34" y2="113.73" stroke="#000" stroke-width="0.5" stroke-opacity="0.8"/>
<line x1="23.73" y1="116.43" x2="25.10" y2="113.73" stroke="#000" stroke-width="0.5" stroke-opacity="0.8"/>
<text rotate="0.05" transform="translate(0,117.58) scale(1,1.080)" class="t"><tspan x="11.97" y="-0.41" style="font-size:5.05px">−</tspan><tspan x="26.30" y="0" text-anchor="end">100</tspan></text>
<line x1="27.80" y1="167.17" x2="30.20" y2="167.17" stroke="#444" stroke-width="0.9"/>
<line x1="23.73" y1="168.42" x2="25.10" y2="165.72" stroke="#000" stroke-width="0.5" stroke-opacity="0.8"/>
<text rotate="0.05" transform="translate(0,169.57) scale(1,1.080)" class="t"><tspan x="11.97" y="-0.41" style="font-size:5.05px">−</tspan><tspan x="26.30" y="0" text-anchor="end">150</tspan></text>
<line x1="27.80" y1="219.16" x2="30.20" y2="219.16" stroke="#444" stroke-width="0.9"/>
<line x1="19.96" y1="220.41" x2="21.34" y2="217.71" stroke="#000" stroke-width="0.5" stroke-opacity="0.8"/>
<line x1="23.73" y1="220.41" x2="25.10" y2="217.71" stroke="#000" stroke-width="0.5" stroke-opacity="0.8"/>
<text rotate="0.05" transform="translate(0,221.56) scale(1,1.080)" class="t"><tspan x="11.97" y="-0.41" style="font-size:5.05px">−</tspan><tspan x="26.30" y="0" text-anchor="end">200</tspan></text>
<rect x="392.70" y="3.40" width="77.10" height="38.70" rx="1.2" fill="#fff" fill-opacity="0.8" stroke="#d0d0d0" stroke-width="0.6"/>
<line x1="395.00" y1="8.45" x2="408.00" y2="8.45" stroke="#1f77b4" stroke-width="1.1"/>
<text rotate="0.05" transform="translate(412.40,10.75) scale(1,1.000)" class="lg">Kaiser window</text>
<line x1="395.00" y1="17.75" x2="408.00" y2="17.75" stroke="#ff7f0e" stroke-width="1.1"/>
<text rotate="0.05" transform="translate(412.40,20.05) scale(1,1.000)" class="lg">Hamming window</text>
<line x1="395.00" y1="27.10" x2="408.00" y2="27.10" stroke="#2ca02c" stroke-width="1.1"/>
<text rotate="0.05" transform="translate(412.40,29.40) scale(1,1.000)" class="lg">Hanning window</text>
<line x1="395.00" y1="36.45" x2="408.00" y2="36.45" stroke="#d62728" stroke-width="1.1"/>
<text rotate="0.05" transform="translate(412.40,38.75) scale(1,1.000)" class="lg">Blackman window</text>
<text rotate="0.05" x="251.60" y="256.40" text-anchor="middle" class="lab">Frequency[Hz]</text>
<text rotate="0.05" transform="translate(7.30,118.80) rotate(-90)" text-anchor="middle" class="lab">Normalized magnitude [dB]</text>
</svg>
</body></html>
